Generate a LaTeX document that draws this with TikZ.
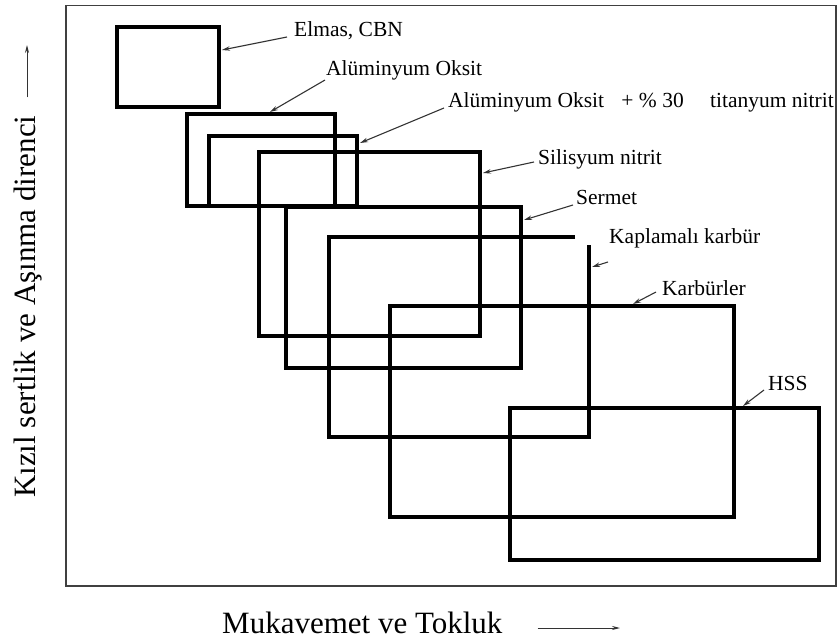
\documentclass[tikz,border=0pt]{standalone}
\usepackage{fontspec}
\setmainfont{Liberation Serif}
\usepackage{tikz}
\usetikzlibrary{calc}
\usetikzlibrary{arrows.meta}
\tikzset{
  matbox/.style={draw, line width=3.6pt, inner sep=0pt, outer sep=0pt, anchor=north west},
  lbl/.style={anchor=base west, inner sep=1pt, font=\fontsize{21.5}{24}\selectfont},
  axlbl/.style={anchor=base west, inner sep=0pt, font=\fontsize{31}{34}\selectfont},
  pointer/.style={draw=black!80, line width=1.1pt, -{Stealth[length=8pt,width=4.5pt]}},
  axarrow/.style={draw=black!80, line width=1pt, -{Stealth[length=8pt,width=4pt]}}
}

\begin{document}
\begin{tikzpicture}[x=1pt,y=-1pt]
				\useasboundingbox (0,0) rectangle (838,644);
				\node[draw=black!75, line width=1.5pt, minimum width=770pt, minimum height=580pt, inner sep=0pt, anchor=north west] (frame) at (65,5) {};
				
				% tool material boxes
				\node[matbox, minimum width=102pt, minimum height=80pt] (cbn) at (117,27) {};
				\node[matbox, minimum width=148pt, minimum height=92pt] (alox) at (187,114) {};
				\node[matbox, minimum width=148pt, minimum height=70pt] (altin) at (209,136) {};
				\node[matbox, minimum width=221pt, minimum height=184pt] (sin) at (259,152) {};
				\node[matbox, minimum width=235pt, minimum height=161pt] (sermet) at (286,207) {};
				\node[matbox, minimum width=344pt, minimum height=211pt] (karbur) at (390,306) {};
				\node[matbox, minimum width=309pt, minimum height=152pt] (hss) at (510,408) {};
				\coordinate (kap1) at (575,237);
				\coordinate (kap2) at (589,245);
				\draw[line width=3.6pt] (kap1) -| (329,437) -| (kap2);
				
				% labels
				\node[lbl] (l-cbn) at (293,37) {Elmas, CBN};
				\node[lbl] (l-alox) at (325,76) {Alüminyum Oksit};
				\node[lbl] (l-altin) at (447,108) {Alüminyum Oksit\hspace{12pt} + \% 30\hspace{21pt} titanyum nitrit};
				\node[lbl] (l-sin) at (537,165) {Silisyum nitrit};
				\node[lbl] (l-sermet) at (575,205) {Sermet};
				\node[lbl] (l-kap) at (608,244) {Kaplamalı karbür};
				\node[lbl] (l-karbur) at (661,296) {Karbürler};
				\node[lbl] (l-hss) at (767,390) {HSS};
				
				\draw[pointer] ([xshift=-6pt]l-cbn.base west) -- ($(cbn.north east)+(3,23)$);
				\draw[pointer] ([yshift=-4pt]l-alox.base west) -- ($(alox.north west)+(83,-2)$);
				\draw[pointer] ([xshift=-3pt]l-altin.base west) -- ($(altin.north east)+(3,7)$);
				\draw[pointer] ([xshift=-3pt,yshift=3pt]l-sin.base west) -- ($(sin.north east)+(3,21)$);
				\draw[pointer] ([xshift=-2pt]l-sermet.base west) -- ($(sermet.north east)+(3,13)$);
				\draw[pointer] ([yshift=-18pt]l-kap.base west) -- ($(kap2)+(3,22)$);
				\draw[pointer] ([xshift=-5pt,yshift=4pt]l-karbur.base west) -- ($(karbur.north west)+(243,-2)$);
				\draw[pointer] ([xshift=-3pt]l-hss.base west) -- ($(hss.north west)+(233,-2)$);
				
				% axes
				\node[axlbl] (xlbl) at (222,633) {Mukavemet ve Tokluk};
				\node[axlbl, rotate=90] (ylbl) at (35,498) {Kızıl sertlik ve Aşınma direnci};
				\coordinate (xtip) at (620,628);
				\coordinate (ytip) at (27,45);
				\draw[axarrow] ([xshift=35pt,yshift=5pt]xlbl.base east) -- (xtip);
				\draw[axarrow] ([xshift=-8pt,yshift=18pt]ylbl.base east) -- (ytip);
			\end{tikzpicture}
\end{document}
